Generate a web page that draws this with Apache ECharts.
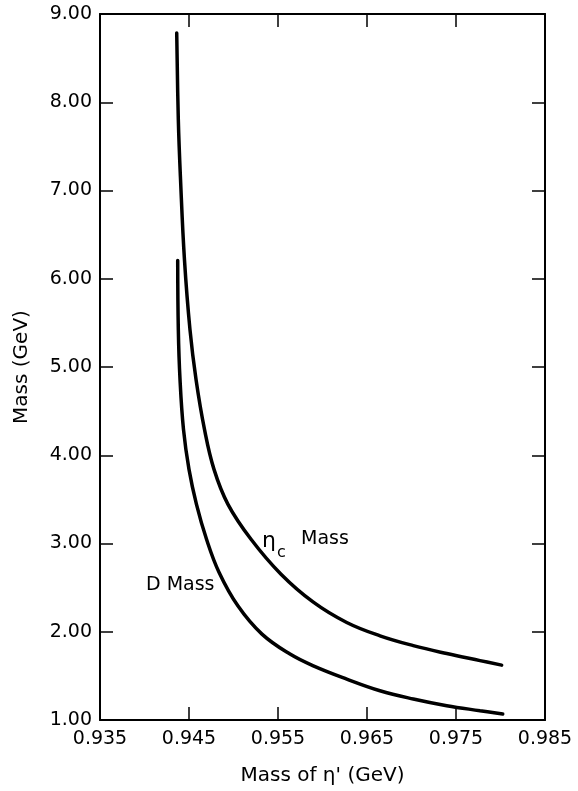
<!DOCTYPE html>
<html>
<head>
<meta charset="utf-8">
<script src="https://cdn.jsdelivr.net/npm/echarts@6/dist/echarts.min.js"></script>
<style>
  html, body { margin: 0; padding: 0; background: #fff; }
  #chart { width: 578px; height: 791px; }
</style>
</head>
<body>
<div id="chart"></div>
<script>
  // mass of eta' (GeV) vs. predicted masses
  const etacX = [0.94362, 0.94380, 0.94405, 0.94449, 0.94511, 0.94579, 0.94674, 0.94781, 0.94938, 0.95197, 0.95534, 0.95897, 0.96272, 0.96646, 0.97020, 0.97396, 0.97770, 0.98013]
  const etacY = [8.785, 7.801, 7.122, 6.216, 5.424, 4.859, 4.293, 3.840, 3.444, 3.048, 2.652, 2.335, 2.105, 1.954, 1.843, 1.753, 1.673, 1.622]
  const dX = [0.94373, 0.94380, 0.94399, 0.94438, 0.94500, 0.94584, 0.94697, 0.94837, 0.95051, 0.95320, 0.95635, 0.95897, 0.96272, 0.96646, 0.97020, 0.97396, 0.97770, 0.98025]
  const dY = [6.208, 5.424, 4.859, 4.293, 3.840, 3.444, 3.048, 2.675, 2.291, 1.973, 1.747, 1.614, 1.464, 1.332, 1.238, 1.162, 1.105, 1.068]
  const xTicks = [0.935, 0.945, 0.955, 0.965, 0.975, 0.985]
  const yTicks = [1, 2, 3, 4, 5, 6, 7, 8, 9]

  const font = 'DejaVu Sans'
  let myChart = echarts.init(document.getElementById('chart'))

  let pairs = (xs, ys) => xs.map((x, i) => [x, ys[i]])

  let tickStyle = {show: true, inside: true, length: 13, lineStyle: {color: '#000', width: 1.5}}
  let lineStyle = {show: true, lineStyle: {color: '#000', width: 2}}

  let option = {
    animation: false,
    grid: {left: 100, right: 33, top: 14, bottom: 70},
    xAxis: [
      {
        type: 'value',
        min: xTicks[0],
        max: xTicks[xTicks.length - 1],
        interval: 0.01,
        name: "Mass of η' (GeV)",
        nameLocation: 'middle',
        nameGap: 46,
        nameTextStyle: {fontFamily: font, fontSize: 20, color: '#000'},
        axisLine: lineStyle,
        axisTick: tickStyle,
        splitLine: {show: false},
        axisLabel: {
          margin: 10,
          fontFamily: font,
          fontSize: 19,
          color: '#000',
          formatter: v => v.toFixed(3)
        }
      },
      {
        type: 'value',
        position: 'top',
        min: xTicks[0],
        max: xTicks[xTicks.length - 1],
        interval: 0.01,
        axisLine: lineStyle,
        axisTick: tickStyle,
        axisLabel: {show: false},
        splitLine: {show: false}
      }
    ],
    yAxis: [
      {
        type: 'value',
        min: yTicks[0],
        max: yTicks[yTicks.length - 1],
        interval: 1,
        name: 'Mass (GeV)',
        nameLocation: 'middle',
        nameGap: 68,
        nameTextStyle: {fontFamily: font, fontSize: 20, color: '#000'},
        axisLine: lineStyle,
        axisTick: tickStyle,
        splitLine: {show: false},
        axisLabel: {
          margin: 8,
          fontFamily: font,
          fontSize: 19,
          color: '#000',
          formatter: v => v.toFixed(2)
        }
      },
      {
        type: 'value',
        position: 'right',
        min: yTicks[0],
        max: yTicks[yTicks.length - 1],
        interval: 1,
        axisLine: lineStyle,
        axisTick: tickStyle,
        axisLabel: {show: false},
        splitLine: {show: false}
      }
    ],
    series: [
      {
        name: 'etac',
        type: 'line',
        data: pairs(etacX, etacY),
        smooth: 0.4,
        showSymbol: false,
        lineStyle: {color: '#000', width: 3.5, cap: 'round'}
      },
      {
        name: 'D',
        type: 'line',
        data: pairs(dX, dY),
        smooth: 0.4,
        showSymbol: false,
        lineStyle: {color: '#000', width: 3.5, cap: 'round'}
      }
    ],
    graphic: [
      {type: 'text', left: 146, top: 576, style: {text: 'D Mass', fontFamily: font, fontSize: 19, fill: '#000'}},
      {type: 'text', left: 262, top: 530, style: {text: 'η', fontFamily: font, fontSize: 22, fill: '#000'}},
      {type: 'text', left: 277, top: 545, style: {text: 'c', fontFamily: font, fontSize: 16, fill: '#000'}},
      {type: 'text', left: 301, top: 530, style: {text: 'Mass', fontFamily: font, fontSize: 19, fill: '#000'}}
    ]
  }
  myChart.setOption(option)
</script>
</body>
</html>
